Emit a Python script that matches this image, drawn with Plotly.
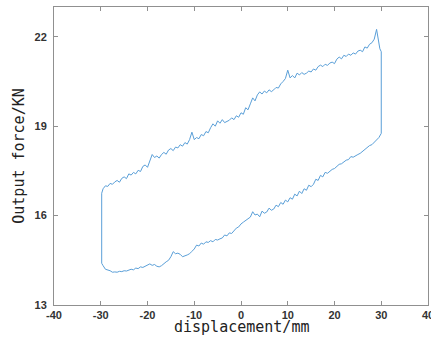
import plotly.graph_objects as go

# Upper (loading) branch
upper_x = [-29.8, -29.5, -29.0, -28.5, -28.0, -27.5, -27.0, -26.5, -26.0, -25.5, -25.0, -24.5, -24.0, -23.5, -23.0, -22.5,
           -22.0, -21.5, -21.0, -20.5, -20.0, -19.5, -19.0, -18.5, -18.0, -17.5, -17.0, -16.5, -16.0, -15.5, -15.0,
           -14.5, -14.0, -13.5, -13.0, -12.5, -12.0, -11.5, -11.0, -10.5, -10.0, -9.5, -9.0, -8.5, -8.0, -7.5, -7.0,
           -6.5, -6.0, -5.5, -5.0, -4.5, -4.0, -3.5, -3.0, -2.5, -2.0, -1.5, -1.0, -0.5, 0.0, 0.5, 1.0, 1.5, 2.0, 2.5,
           3.0, 3.5, 4.0, 4.5, 5.0, 5.5, 6.0, 6.5, 7.0, 7.5, 8.0, 8.5, 9.0, 9.5, 10.0, 10.5, 11.0, 11.5, 12.0, 12.5,
           13.0, 13.5, 14.0, 14.5, 15.0, 15.5, 16.0, 16.5, 17.0, 17.5, 18.0, 18.5, 19.0, 19.5, 20.0, 20.5, 21.0, 21.5,
           22.0, 22.5, 23.0, 23.5, 24.0, 24.5, 25.0, 25.5, 26.0, 26.5, 27.0, 27.5, 28.0, 28.5, 29.0, 29.7, 30.0]
upper_y = [16.75, 16.90, 17.00, 16.98, 17.08, 17.05, 17.13, 17.18, 17.12, 17.25, 17.30, 17.24, 17.40, 17.36, 17.45, 17.40,
           17.52, 17.48, 17.65, 17.70, 17.62, 17.85, 18.05, 17.95, 18.00, 17.93, 18.05, 18.12, 18.06, 18.20, 18.25,
           18.18, 18.30, 18.27, 18.38, 18.33, 18.45, 18.40, 18.55, 18.80, 18.55, 18.62, 18.58, 18.72, 18.68, 18.82, 18.78,
           18.95, 19.08, 19.00, 19.18, 19.10, 19.22, 19.12, 19.15, 19.20, 19.28, 19.22, 19.35, 19.30, 19.45, 19.40, 19.62,
           19.55, 19.75, 19.95, 19.85, 20.05, 20.15, 20.08, 20.18, 20.12, 20.22, 20.16, 20.22, 20.30, 20.28, 20.42, 20.50,
           20.60, 20.88, 20.62, 20.70, 20.62, 20.78, 20.72, 20.80, 20.74, 20.78, 20.85, 20.82, 20.92, 20.88, 21.00, 21.05,
           21.00, 21.08, 21.04, 21.12, 21.15, 21.10, 21.25, 21.32, 21.26, 21.38, 21.34, 21.42, 21.38, 21.46, 21.42, 21.52,
           21.55, 21.50, 21.66, 21.62, 21.75, 21.80, 21.92, 22.25, 21.60, 21.50]

# Lower (unloading) branch
lower_x = [30.0, 29.5, 29.0, 28.5, 28.0, 27.5, 27.0, 26.5, 26.0, 25.5, 25.0, 24.5, 24.0, 23.5, 23.0, 22.5, 22.0, 21.5,
           21.0, 20.5, 20.0, 19.5, 19.0, 18.5, 18.0, 17.5, 17.0, 16.5, 16.0, 15.5, 15.0, 14.5, 14.0, 13.5, 13.0, 12.5,
           12.0, 11.5, 11.0, 10.5, 10.0, 9.5, 9.0, 8.5, 8.0, 7.5, 7.0, 6.5, 6.0, 5.5, 5.0, 4.5, 4.0, 3.5, 3.0, 2.5, 2.0,
           1.5, 1.0, 0.5, 0.0, -0.5, -1.0, -1.5, -2.0, -2.5, -3.0, -3.5, -4.0, -4.5, -5.0, -5.5, -6.0, -6.5, -7.0, -7.5,
           -8.0, -8.5, -9.0, -9.5, -10.0, -10.5, -11.0, -11.5, -12.0, -12.5, -13.0, -13.5, -14.0, -14.5, -15.0, -15.5,
           -16.0, -16.5, -17.0, -17.5, -18.0, -18.5, -19.0, -19.5, -20.0, -20.5, -21.0, -21.5, -22.0, -22.5, -23.0, -23.5,
           -24.0, -24.5, -25.0, -25.5, -26.0, -26.5, -27.0, -27.5, -28.0, -28.5, -29.0, -29.5, -29.8, -29.8]
lower_y = [18.76, 18.62, 18.55, 18.45, 18.38, 18.35, 18.28, 18.24, 18.15, 18.09, 18.05, 18.00, 17.96, 17.98, 17.88, 17.86,
           17.80, 17.74, 17.72, 17.64, 17.58, 17.55, 17.48, 17.42, 17.45, 17.30, 17.35, 17.18, 17.22, 17.05, 16.97, 17.02,
           16.85, 16.90, 16.74, 16.82, 16.66, 16.72, 16.55, 16.60, 16.46, 16.52, 16.38, 16.44, 16.30, 16.35, 16.22, 16.18,
           16.25, 16.12, 16.08, 16.15, 15.96, 16.05, 16.02, 16.13, 15.95, 15.90, 15.85, 15.78, 15.72, 15.62, 15.58, 15.50,
           15.40, 15.42, 15.32, 15.35, 15.25, 15.22, 15.18, 15.20, 15.12, 15.16, 15.10, 15.12, 15.04, 15.08, 14.98, 15.01,
           14.88, 14.80, 14.72, 14.68, 14.64, 14.62, 14.70, 14.74, 14.72, 14.79, 14.62, 14.50, 14.45, 14.38, 14.32, 14.28,
           14.30, 14.36, 14.33, 14.38, 14.34, 14.30, 14.26, 14.28, 14.22, 14.24, 14.18, 14.20, 14.16, 14.14, 14.15, 14.12,
           14.13, 14.10, 14.11, 14.10, 14.15, 14.18, 14.20, 14.32, 14.40, 16.75]

x_ticks = [-40, -30, -20, -10, 0, 10, 20, 30, 40]
x_tick_labels = ["-40", "-30", "-20", "-10", "0", "10", "20", "30", "40"]
y_ticks = [13, 16, 19, 22]
y_tick_labels = ["13", "16", "19", "22"]
x_title = "displacement/mm"
y_title = "Output force/KN"

fig = go.Figure()
fig.add_trace(go.Scatter(
    x=upper_x + lower_x, y=upper_y + lower_y, mode="lines",
    line=dict(color="#5a9fd8", width=1), showlegend=False))

axis_common = dict(
    showgrid=False, zeroline=False, showline=True, linecolor="#909090", linewidth=1,
    mirror="ticks", ticks="inside", ticklen=4, tickcolor="#909090", tickwidth=1,
    tickfont=dict(family="Liberation Sans, Arial", size=11, color="#333333", weight="bold"),
    ticklabeloverflow="allow", automargin=False,
)

fig.update_layout(
    width=431, height=343,
    margin=dict(l=54, r=3, t=7, b=38),
    paper_bgcolor="white", plot_bgcolor="white",
    xaxis=dict(range=[-40, 40], tickmode="array", tickvals=x_ticks, ticktext=x_tick_labels,
               ticklabelstandoff=0, **axis_common),
    yaxis=dict(range=[13, 23], tickmode="array", tickvals=y_ticks, ticktext=y_tick_labels,
               ticklabelstandoff=4,
               title=dict(text=y_title, standoff=6,
                          font=dict(family="DejaVu Sans Mono", size=15, color="#222222")),
               **axis_common),
    annotations=[dict(text=x_title, xref="paper", yref="paper", x=0.5, y=-0.0755,
                      xanchor="center", yanchor="middle", showarrow=False,
                      font=dict(family="DejaVu Sans Mono", size=15, color="#222222"))],
)

fig.write_html("out.html")
